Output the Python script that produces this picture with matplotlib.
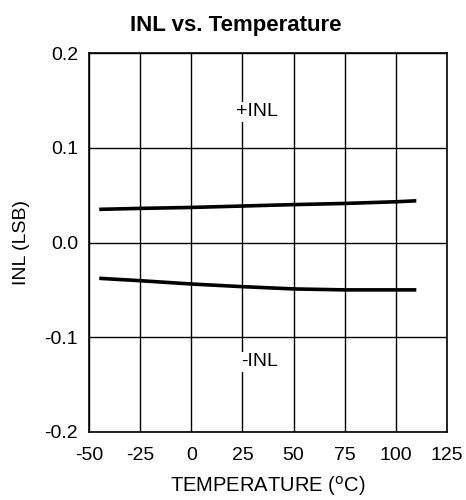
import matplotlib
matplotlib.use("Agg")
import matplotlib.pyplot as plt

plt.rcParams['font.family'] = ['Liberation Sans', 'DejaVu Sans']

temp = [-45, -25, 0, 25, 50, 75, 100, 110]
inl_pos = [0.035, 0.036, 0.037, 0.0385, 0.040, 0.0412, 0.043, 0.044]
inl_neg = [-0.0378, -0.0403, -0.0438, -0.0466, -0.049, -0.050, -0.050, -0.050]
xticks = [-50, -25, 0, 25, 50, 75, 100, 125]
xtick_labels = ['-50', '-25', '0', '25', '50', '75', '100', '125']
yticks = [-0.2, -0.1, 0.0, 0.1, 0.2]
ytick_labels = ['-0.2', '-0.1', '0.0', '0.1', '0.2']

fig = plt.figure(figsize=(4.66, 5.0), dpi=100)
ax = fig.add_axes([89/466, 1-432/500, 358/466, 379/500])
ax.plot(temp, inl_pos, color='black', lw=2.6, solid_capstyle='butt')
ax.plot(temp, inl_neg, color='black', lw=2.6, solid_capstyle='butt')
ax.set_xlim(-50, 125)
ax.set_ylim(-0.2, 0.2)
ax.set_xticks(xticks)
ax.set_xticklabels(xtick_labels)
ax.set_yticks(yticks)
ax.set_yticklabels(ytick_labels)
ax.grid(True, color='black', lw=1.0)
ax.set_axisbelow(True)
for s in ax.spines.values():
    s.set_linewidth(1.2)
ax.tick_params(length=0, labelsize=14)
ax.tick_params(axis='y', pad=8)
ax.tick_params(axis='x', pad=11)
ax.text(32, 0.138, '+INL', ha='center', va='center', fontsize=14,
        bbox=dict(facecolor='white', edgecolor='none', pad=1))
ax.text(33.5, -0.126, '-INL', ha='center', va='center', fontsize=14,
        bbox=dict(facecolor='white', edgecolor='none', pad=1))
ax.set_xlabel('TEMPERATURE ($^{\\rm o}$C)', fontsize=14.5, labelpad=7)
ax.set_ylabel('INL (LSB)', fontsize=14, labelpad=10)
ax.set_title('INL vs. Temperature', fontsize=16, fontweight='bold', pad=16, x=0.41)
fig.savefig('out.png', dpi=100)
